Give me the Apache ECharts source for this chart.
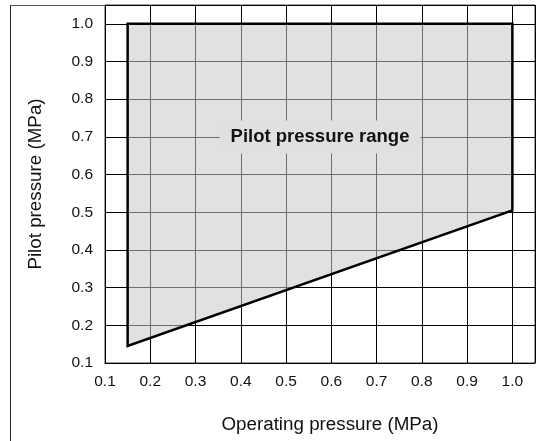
<!DOCTYPE html>
<html>
<head>
<meta charset="utf-8">
<script src="https://cdn.jsdelivr.net/npm/echarts@6/dist/echarts.min.js"></script>
<style>html,body{margin:0;padding:0;background:#fff}#c{width:546px;height:441px}</style>
</head>
<body>
<div id="c"></div>
<script>
var xTicks = [0.1,0.2,0.3,0.4,0.5,0.6,0.7,0.8,0.9,1.0];
var yTicks = [0.1,0.2,0.3,0.4,0.5,0.6,0.7,0.8,0.9,1.0];
var rangeX = [0.15, 0.15, 1.0, 1.0];
var rangeY = [0.145, 1.0, 1.0, 0.505];
var labelText = 'Pilot pressure range';
var labelPos = [0.575, 0.7];

var FONT = '"Liberation Sans", Arial, Helvetica, sans-serif';
var chart = echarts.init(document.getElementById('c'), null, {renderer: 'canvas'});
var poly = rangeX.map(function (x, i) { return [x, rangeY[i]]; });
function fmt(v) {
  for (var i = 0; i < xTicks.length; i++) if (Math.abs(xTicks[i] - v) < 1e-6) return xTicks[i].toFixed(1);
  return '';
}
chart.setOption({
  animation: false,
  backgroundColor: '#fff',
  grid: {left: 105, right: 11, top: 5, bottom: 78, show: true, borderColor: '#444', borderWidth: 1, backgroundColor: 'transparent'},
  xAxis: {
    type: 'value', min: 0.1, max: 1.05, interval: 0.1,
    name: 'Operating pressure (MPa)', nameLocation: 'middle', nameGap: 52,
    nameTextStyle: {fontFamily: FONT, fontSize: 18.8, color: '#111', padding: [0, 0, 0, 20]},
    axisLine: {show: true, lineStyle: {color: '#000', width: 1}},
    axisTick: {show: false},
    axisLabel: {fontFamily: FONT, fontSize: 15.5, color: '#111', margin: 11, formatter: fmt, showMaxLabel: true},
    splitLine: {show: true, lineStyle: {color: '#000', width: 1}}
  },
  yAxis: {
    type: 'value', min: 0.1, max: 1.05, interval: 0.1,
    name: 'Pilot pressure (MPa)', nameLocation: 'middle', nameGap: 60, nameRotate: 90,
    nameTextStyle: {fontFamily: FONT, fontSize: 18.8, color: '#111'},
    axisLine: {show: true, lineStyle: {color: '#000', width: 1}},
    axisTick: {show: false},
    axisLabel: {fontFamily: FONT, fontSize: 15.5, color: '#111', margin: 12, formatter: fmt},
    splitLine: {show: true, lineStyle: {color: '#000', width: 1}}
  },
  graphic: [
    {type: 'line', shape: {x1: 10.5, y1: 5, x2: 10.5, y2: 441}, style: {stroke: '#222', lineWidth: 1}},
    {type: 'line', shape: {x1: 10, y1: 5.5, x2: 105, y2: 5.5}, style: {stroke: '#555', lineWidth: 1}}
  ],
  series: [{
    type: 'custom',
    coordinateSystem: 'cartesian2d',
    data: [0],
    encode: {x: -1, y: -1},
    renderItem: function (params, api) {
      var pts = poly.map(function (p) { return api.coord(p); });
      var lp = api.coord(labelPos);
      return {type: 'group', children: [
        {type: 'polygon', shape: {points: pts}, style: {fill: 'rgba(200,200,200,0.55)', stroke: '#000', lineWidth: 2.5, lineJoin: 'miter'}},
        {type: 'text', x: lp[0], y: lp[1], style: {text: labelText, fontFamily: FONT, fontWeight: 'bold', fontSize: 18.5, fill: '#111', align: 'center', verticalAlign: 'middle', backgroundColor: '#e0e0e0', padding: [7, 11]}}
      ]};
    }
  }]
});
</script>
</body>
</html>
